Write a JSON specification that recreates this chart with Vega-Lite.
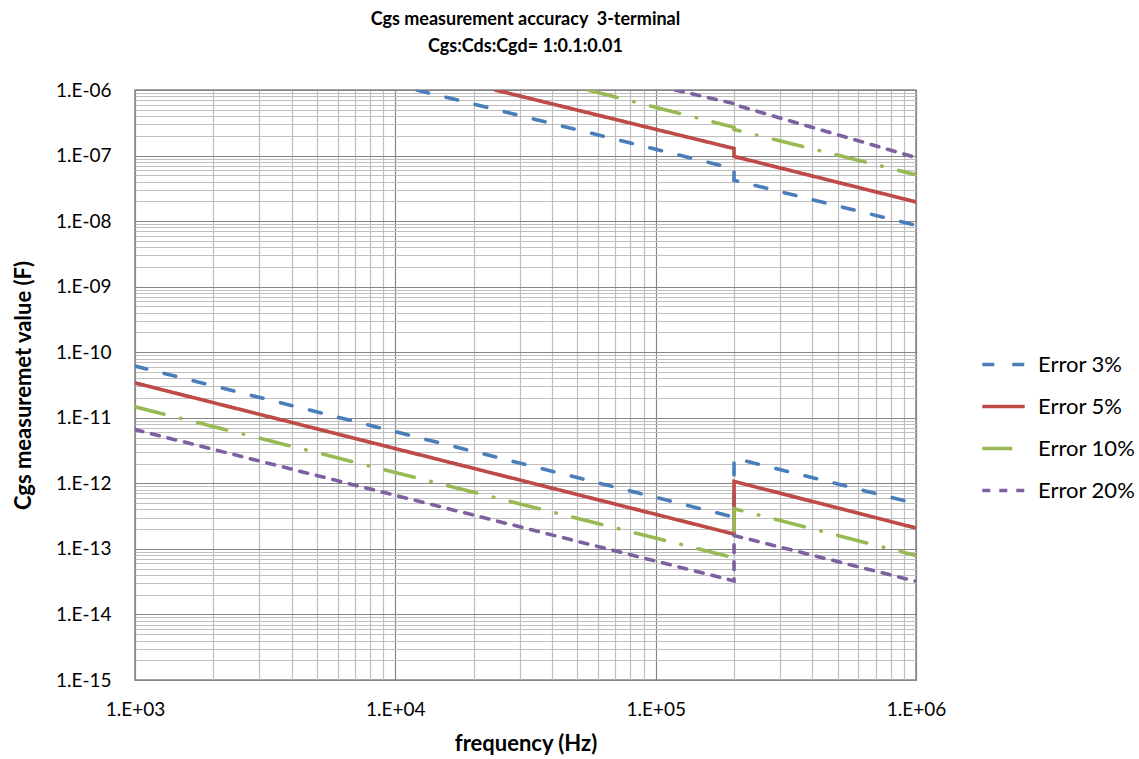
{
  "$schema": "https://vega.github.io/schema/vega-lite/v6.json",
  "width": 781,
  "height": 590,
  "autosize": "none",
  "padding": {"left": 135, "top": 90, "right": 223, "bottom": 79},
  "background": "white",
  "config": {
    "font": "Lato",
    "view": {"stroke": "#868686", "strokeWidth": 1.5}
  },
  "title": {
    "text": ["Cgs measurement accuracy \u00a03-terminal", "Cgs:Cds:Cgd= 1:0.1:0.01"],
    "font": "Lato",
    "fontSize": 18,
    "fontWeight": "bold",
    "color": "#000000",
    "lineHeight": 27,
    "anchor": "middle",
    "frame": "group",
    "offset": 25
  },
  "data": {
    "values": [
      {"series": "Error 3%", "seg": "upper", "i": 1, "f": 12100, "c": 1e-6},
      {"series": "Error 3%", "seg": "upper", "i": 2, "f": 200000, "c": 6.3e-8},
      {"series": "Error 3%", "seg": "upper", "i": 3, "f": 200000, "c": 4.2e-8},
      {"series": "Error 3%", "seg": "upper", "i": 4, "f": 1000000, "c": 8.6e-9},
      {"series": "Error 3%", "seg": "lower", "i": 1, "f": 1000, "c": 6.15e-11},
      {"series": "Error 3%", "seg": "lower", "i": 2, "f": 200000, "c": 3.05e-13},
      {"series": "Error 3%", "seg": "lower", "i": 3, "f": 200000, "c": 2.43e-12},
      {"series": "Error 3%", "seg": "lower", "i": 4, "f": 1000000, "c": 4.9e-13},
      {"series": "Error 5%", "seg": "upper", "i": 1, "f": 24200, "c": 1e-6},
      {"series": "Error 5%", "seg": "upper", "i": 2, "f": 200000, "c": 1.28e-7},
      {"series": "Error 5%", "seg": "upper", "i": 3, "f": 200000, "c": 9.7e-8},
      {"series": "Error 5%", "seg": "upper", "i": 4, "f": 1000000, "c": 1.96e-8},
      {"series": "Error 5%", "seg": "lower", "i": 1, "f": 1000, "c": 3.4e-11},
      {"series": "Error 5%", "seg": "lower", "i": 2, "f": 200000, "c": 1.68e-13},
      {"series": "Error 5%", "seg": "lower", "i": 3, "f": 200000, "c": 1.07e-12},
      {"series": "Error 5%", "seg": "lower", "i": 4, "f": 1000000, "c": 2.08e-13},
      {"series": "Error 10%", "seg": "upper", "i": 1, "f": 55000, "c": 1e-6},
      {"series": "Error 10%", "seg": "upper", "i": 2, "f": 200000, "c": 2.7e-7},
      {"series": "Error 10%", "seg": "upper", "i": 3, "f": 200000, "c": 2.5e-7},
      {"series": "Error 10%", "seg": "upper", "i": 4, "f": 1000000, "c": 5.1e-8},
      {"series": "Error 10%", "seg": "lower", "i": 1, "f": 1000, "c": 1.47e-11},
      {"series": "Error 10%", "seg": "lower", "i": 2, "f": 200000, "c": 7.3e-14},
      {"series": "Error 10%", "seg": "lower", "i": 3, "f": 200000, "c": 4.1e-13},
      {"series": "Error 10%", "seg": "lower", "i": 4, "f": 1000000, "c": 7.9e-14},
      {"series": "Error 20%", "seg": "upper", "i": 1, "f": 119000, "c": 1e-6},
      {"series": "Error 20%", "seg": "upper", "i": 2, "f": 200000, "c": 6.2e-7},
      {"series": "Error 20%", "seg": "upper", "i": 3, "f": 200000, "c": 6.0e-7},
      {"series": "Error 20%", "seg": "upper", "i": 4, "f": 1000000, "c": 9.3e-8},
      {"series": "Error 20%", "seg": "lower", "i": 1, "f": 1000, "c": 6.6e-12},
      {"series": "Error 20%", "seg": "lower", "i": 2, "f": 200000, "c": 3.25e-14},
      {"series": "Error 20%", "seg": "lower", "i": 3, "f": 200000, "c": 1.6e-13},
      {"series": "Error 20%", "seg": "lower", "i": 4, "f": 1000000, "c": 3.2e-14}
    ]
  },
  "mark": {"type": "line", "strokeWidth": 3.6, "strokeCap": "round", "clip": true},
  "encoding": {
    "x": {
      "field": "f",
      "type": "quantitative",
      "scale": {"type": "log", "domain": [1000, 1000000], "nice": false},
      "axis": {
        "values": [1000, 2000, 3000, 4000, 5000, 6000, 7000, 8000, 9000, 10000, 20000, 30000, 40000, 50000, 60000, 70000, 80000, 90000, 100000, 200000, 300000, 400000, 500000, 600000, 700000, 800000, 900000, 1000000],
        "labelExpr": "abs(log(datum.value)/LN10 - round(log(datum.value)/LN10)) < 0.001 ? '1.E+0' + round(log(datum.value)/LN10) : ''",
        "labelOverlap": false,
        "labelFlush": false,
        "labelFont": "Lato",
        "labelFontSize": 19,
        "labelColor": "#000000",
        "labelPadding": 20,
        "ticks": false,
        "domain": false,
        "grid": true,
        "gridColor": {"condition": {"test": "abs(log(datum.value)/LN10 - round(log(datum.value)/LN10)) < 0.001", "value": "#868686"}, "value": "#BFBFBF"},
        "gridWidth": 1.2,
        "title": "frequency (Hz)",
        "titleFont": "Lato",
        "titleFontSize": 22,
        "titleFontWeight": "bold",
        "titleColor": "#000000",
        "titlePadding": 14
      }
    },
    "y": {
      "field": "c",
      "type": "quantitative",
      "scale": {"type": "log", "domain": [1e-15, 1e-6], "nice": false},
      "axis": {
        "values": [1e-15, 2e-15, 3e-15, 4e-15, 5e-15, 6e-15, 7e-15, 8e-15, 9e-15,
                   1e-14, 2e-14, 3e-14, 4e-14, 5e-14, 6e-14, 7e-14, 8e-14, 9e-14,
                   1e-13, 2e-13, 3e-13, 4e-13, 5e-13, 6e-13, 7e-13, 8e-13, 9e-13,
                   1e-12, 2e-12, 3e-12, 4e-12, 5e-12, 6e-12, 7e-12, 8e-12, 9e-12,
                   1e-11, 2e-11, 3e-11, 4e-11, 5e-11, 6e-11, 7e-11, 8e-11, 9e-11,
                   1e-10, 2e-10, 3e-10, 4e-10, 5e-10, 6e-10, 7e-10, 8e-10, 9e-10,
                   1e-9, 2e-9, 3e-9, 4e-9, 5e-9, 6e-9, 7e-9, 8e-9, 9e-9,
                   1e-8, 2e-8, 3e-8, 4e-8, 5e-8, 6e-8, 7e-8, 8e-8, 9e-8,
                   1e-7, 2e-7, 3e-7, 4e-7, 5e-7, 6e-7, 7e-7, 8e-7, 9e-7, 1e-6],
        "labelExpr": "abs(log(datum.value)/LN10 - round(log(datum.value)/LN10)) < 0.001 ? '1.E-' + (round(-log(datum.value)/LN10) < 10 ? '0' : '') + round(-log(datum.value)/LN10) : ''",
        "labelOverlap": false,
        "labelFlush": false,
        "labelFont": "Lato",
        "labelFontSize": 19,
        "labelColor": "#000000",
        "labelPadding": 24,
        "ticks": false,
        "domain": false,
        "grid": true,
        "gridColor": {"condition": {"test": "abs(log(datum.value)/LN10 - round(log(datum.value)/LN10)) < 0.001", "value": "#868686"}, "value": "#BFBFBF"},
        "gridWidth": 1.2,
        "title": "Cgs measuremet value (F)",
        "titleFont": "Lato",
        "titleFontSize": 22,
        "titleFontWeight": "bold",
        "titleColor": "#000000",
        "titlePadding": 20
      }
    },
    "detail": {"field": "seg"},
    "order": {"field": "i", "type": "quantitative"},
    "color": {
      "field": "series",
      "type": "nominal",
      "scale": {"domain": ["Error 3%", "Error 5%", "Error 10%", "Error 20%"], "range": ["#4A7EBB", "#BE4B48", "#98B954", "#7D60A0"]},
      "legend": {
        "title": null,
        "orient": "none",
        "legendX": 845,
        "legendY": 251,
        "symbolType": "stroke",
        "symbolSize": 1800,
        "symbolStrokeWidth": 3.6,
        "labelFont": "Lato",
        "labelFontSize": 22,
        "labelColor": "#000000",
        "labelOffset": 11,
        "rowPadding": 7
      }
    },
    "strokeDash": {
      "field": "series",
      "type": "nominal",
      "scale": {"domain": ["Error 3%", "Error 5%", "Error 10%", "Error 20%"], "range": [[12, 18], [1, 0], [30, 17, 0.5, 17], [8, 9]]},
      "legend": {
        "title": null,
        "orient": "none",
        "legendX": 845,
        "legendY": 251,
        "symbolType": "stroke",
        "symbolSize": 1800,
        "symbolStrokeWidth": 3.6,
        "labelFont": "Lato",
        "labelFontSize": 22,
        "labelColor": "#000000",
        "labelOffset": 11,
        "rowPadding": 7
      }
    }
  }
}
